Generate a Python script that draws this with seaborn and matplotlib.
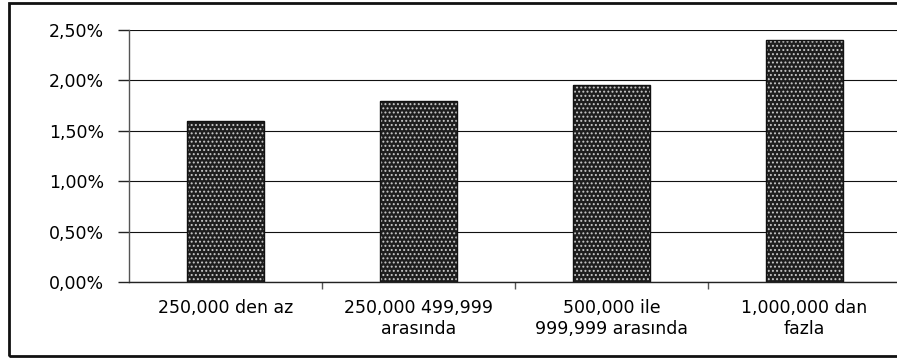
import matplotlib
matplotlib.use("Agg")
import matplotlib.pyplot as plt
from matplotlib.patches import Rectangle
from matplotlib.ticker import FuncFormatter, FixedLocator
import seaborn as sns
import pandas as pd

categories = [
    "250,000 den az",
    "250,000 499,999\narasında",
    "500,000 ile\n999,999 arasında",
    "1,000,000 dan\nfazla",
]
rates = [1.60, 1.80, 1.95, 2.40]  # percent
y_ticks = [0.0, 0.5, 1.0, 1.5, 2.0, 2.5]

df = pd.DataFrame({"category": categories, "rate": rates})

sns.set_style("white")
plt.rcParams["font.family"] = ["DejaVu Sans"]
plt.rcParams["text.color"] = "black"
plt.rcParams["xtick.color"] = "black"
plt.rcParams["ytick.color"] = "black"
plt.rcParams["hatch.linewidth"] = 0.9

fig = plt.figure(figsize=(8.97, 3.58), dpi=100)
ax = fig.add_axes([129 / 897, 1 - 282 / 358, (901 - 129) / 897, (282 - 30) / 358])

# dotted fill
sns.barplot(data=df, x="category", y="rate", ax=ax, width=0.40,
            color="#1e1e1e", saturation=1, linewidth=0, edgecolor="#c8c8c8")
for p in ax.patches:
    p.set_hatch("....")
    p.set_linewidth(0)
# outlines
sns.barplot(data=df, x="category", y="rate", ax=ax, width=0.40,
            fill=False, linewidth=1.0, edgecolor="#111111")

ax.set_ylim(0, 2.5)
ax.set_xlim(-0.5, 3.5)
ax.yaxis.set_major_locator(FixedLocator(y_ticks))
ax.yaxis.set_major_formatter(FuncFormatter(lambda v, _: f"{v:.2f}%".replace(".", ",")))
ax.grid(axis="y", color="#111111", linewidth=0.8)
ax.set_axisbelow(True)

for s in ["top", "right"]:
    ax.spines[s].set_visible(False)
ax.spines["left"].set_color("#555555")
ax.spines["bottom"].set_color("#222222")
ax.spines["left"].set_linewidth(1.0)
ax.spines["bottom"].set_linewidth(1.0)

ax.set_xlabel("")
ax.set_ylabel("")
ax.tick_params(axis="y", length=8, width=1, color="#222222", labelcolor="black",
               labelsize=12.5, pad=10, left=True, direction="out")
ax.tick_params(axis="x", which="major", length=0, labelsize=12.5, pad=12, labelcolor="black")
ax.set_xticks([0.5, 1.5, 2.5], minor=True)
ax.tick_params(axis="x", which="minor", length=5, width=1, color="#555555",
               direction="out", bottom=True)
for lbl in ax.get_xticklabels():
    lbl.set_linespacing(1.25)

# chart frame
fig.patches.append(Rectangle((9 / 897, 1 - 356 / 358), 1.0, (356 - 3) / 358,
                             transform=fig.transFigure, fill=False,
                             edgecolor="#111111", linewidth=2.0, zorder=0))

fig.savefig("out.png", dpi=100)
